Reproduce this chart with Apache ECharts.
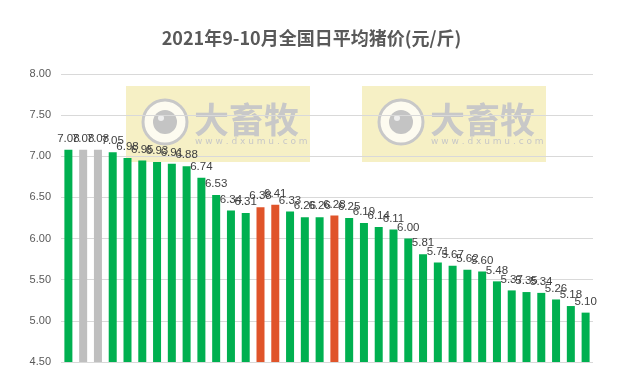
<!DOCTYPE html>
<html>
<head>
<meta charset="utf-8">
<script src="https://cdn.jsdelivr.net/npm/echarts@6/dist/echarts.min.js"></script>
<style>
  html, body { margin: 0; padding: 0; background: #fff; }
  #chart { width: 623px; height: 378px; }
</style>
</head>
<body>
<div id="chart"></div>
<script>
// 日期(9-10月共36天) 与 日平均猪价
var days = ["1","2","3","4","5","6","7","8","9","10","11","12","13","14","15","16","17","18",
            "19","20","21","22","23","24","25","26","27","28","29","30","31","32","33","34","35","36"];
var prices = [7.08, 7.08, 7.08, 7.05, 6.98, 6.95, 6.93, 6.91, 6.88, 6.74, 6.53, 6.34, 6.31, 6.38, 6.41, 6.33, 6.26, 6.26,
              6.28, 6.25, 6.19, 6.14, 6.11, 6.00, 5.81, 5.71, 5.67, 5.62, 5.60, 5.48, 5.37, 5.35, 5.34, 5.26, 5.18, 5.10];
// 柱子颜色类别: g 绿色 / n 灰色 / r 橙红
var kinds = ["g","n","n","g","g","g","g","g","g","g","g","g","g","r","r","g","g","g",
             "r","g","g","g","g","g","g","g","g","g","g","g","g","g","g","g","g","g"];
var colorMap = { g: "#00b050", n: "#bfbfbf", r: "#e0542a" };

// 水印
function watermark(x, y) {
  return {
    type: "group", x: x, y: y, z: 100,
    children: [
      { type: "rect", shape: { x: 0, y: 0, width: 184, height: 76 },
        style: { fill: "rgba(238,228,150,0.55)" } },
      { type: "circle", shape: { cx: 39, cy: 36, r: 22 },
        style: { fill: "rgba(255,255,255,0.75)", stroke: "#c8c8c8", lineWidth: 3 } },
      { type: "circle", shape: { cx: 39, cy: 36, r: 12 },
        style: { fill: "#c4c4c4" } },
      { type: "circle", shape: { cx: 35, cy: 32, r: 3 },
        style: { fill: "#eeeeee" } },
      { type: "text", x: 68, y: 16,
        style: { text: "大畜牧", fill: "#c8c8c8", font: "bold 35px 'Noto Sans CJK SC'" } },
      { type: "text", x: 69, y: 51,
        style: { text: "w w w . d x u m u . c o m", fill: "#c8c8c8", font: "9px 'DejaVu Sans'" } }
    ]
  };
}

var chart = echarts.init(document.getElementById("chart"));
chart.setOption({
  animation: false,
  title: {
    text: "2021年9-10月全国日平均猪价(元/斤)",
    left: "center",
    top: 24,
    textStyle: {
      fontSize: 18,
      fontWeight: "bold",
      color: "#595959",
      fontFamily: "Noto Sans CJK SC"
    }
  },
  grid: { left: 61, right: 30, top: 74, bottom: 16 },
  xAxis: {
    type: "category",
    data: days,
    axisLine: { show: false },
    axisTick: { show: false },
    axisLabel: { show: false }
  },
  yAxis: {
    type: "value",
    min: 4.5,
    max: 8,
    interval: 0.5,
    axisLine: { show: false },
    axisTick: { show: false },
    axisLabel: {
      color: "#595959",
      fontSize: 11,
      fontFamily: "Liberation Sans",
      margin: 10,
      formatter: function (v) { return v.toFixed(2); }
    },
    splitLine: { lineStyle: { color: "#d9d9d9" } }
  },
  series: [{
    type: "bar",
    barWidth: 8,
    data: prices.map(function (v, i) {
      return { value: v, itemStyle: { color: colorMap[kinds[i]] } };
    }),
    label: {
      show: true,
      position: "top",
      distance: 5,
      color: "#404040",
      fontSize: 11.5,
      fontFamily: "Liberation Sans",
      formatter: function (p) { return p.value.toFixed(2); }
    }
  }],
  graphic: [watermark(126, 86), watermark(362, 86)]
});
</script>
</body>
</html>
